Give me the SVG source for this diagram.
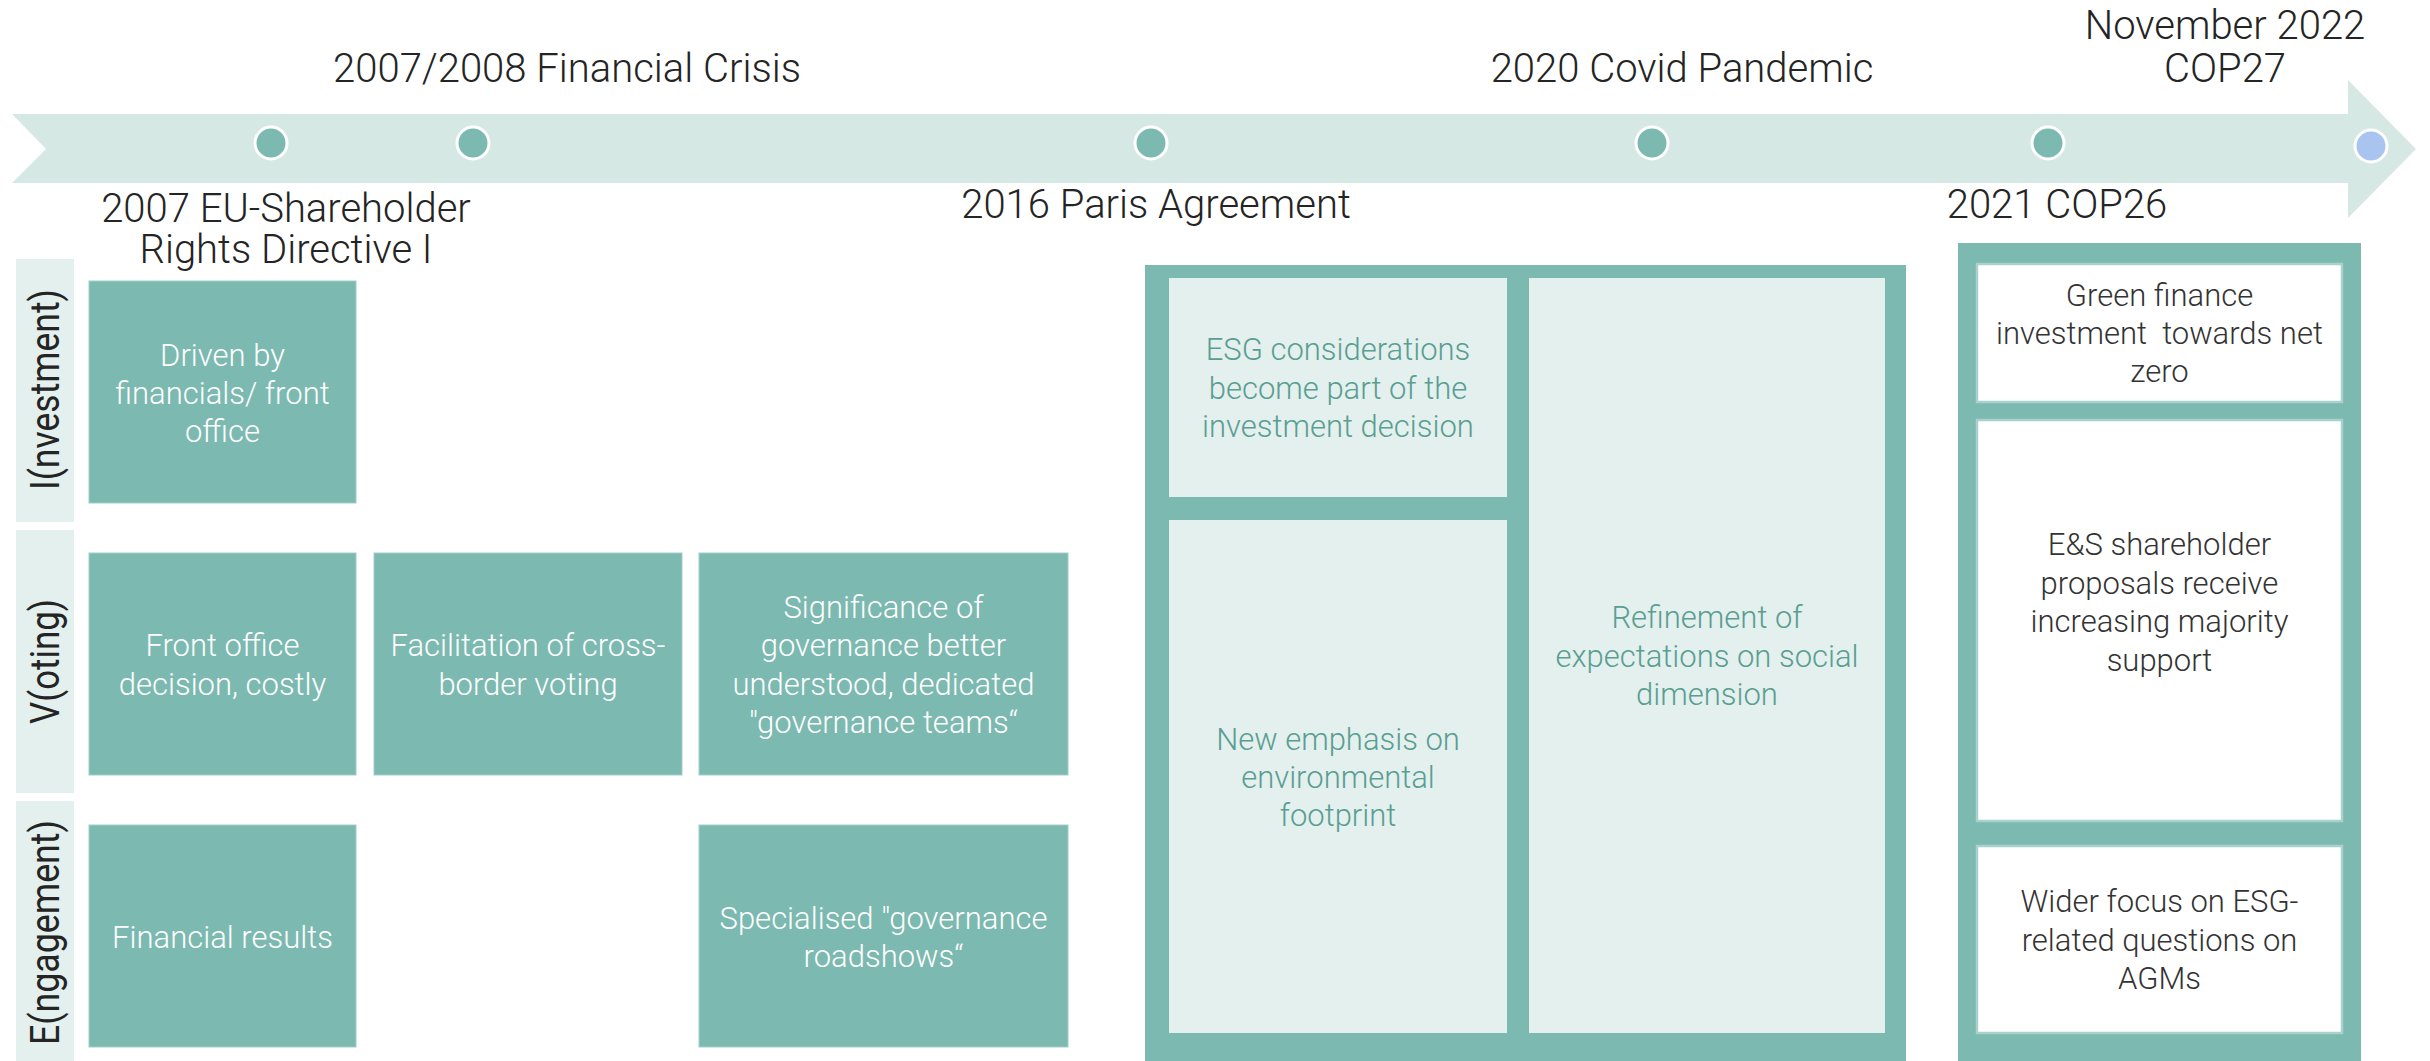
<svg xmlns="http://www.w3.org/2000/svg" width="2430" height="1061" viewBox="0 0 2430 1061">
<style>
text{font-family:Roboto,"Liberation Sans",sans-serif;font-weight:300}
.tl{font-size:40px;fill:#242424;text-anchor:middle}
.row{font-size:40px;fill:#242424;text-anchor:middle;font-weight:400}
.strip{fill:#E3F0EE}
.box{fill:#7CB9B0;stroke:#A3CFC8;stroke-width:1}
.bt{font-size:31px;fill:#FFFFFF;text-anchor:middle}
.frame{fill:#7CB9B0}
.inner{fill:#E3F0EE}
.it{font-size:31px;fill:#5A9E92;text-anchor:middle}
.wbox{fill:#FFFFFF;stroke:#A8D2CB;stroke-width:2.5}
.wt{font-size:31px;fill:#333333;text-anchor:middle}
.dot{fill:#7CB9B0;stroke:#FFFFFF;stroke-width:3}
</style>
<rect x="0" y="0" width="2430" height="1061" fill="#FFFFFF"/>
<g id="timeline">
<path d="M12,114 L2348,114 L2348,80 L2416,149 L2348,218 L2348,183 L12,183 L46,149 Z" fill="#D6E8E4"/>
<circle class="dot" cx="271" cy="143" r="16"/>
<circle class="dot" cx="473" cy="143" r="16"/>
<circle class="dot" cx="1151" cy="143" r="16"/>
<circle class="dot" cx="1652" cy="143" r="16"/>
<circle class="dot" cx="2048" cy="143" r="16"/>
<circle cx="2371" cy="146" r="16" fill="#A9C4EE" stroke="#FFFFFF" stroke-width="3"/>
</g>
<g id="labels">
<text class="tl" x="567" y="82">2007/2008 Financial Crisis</text>
<text class="tl" x="286" y="222">2007 EU-Shareholder</text>
<text class="tl" x="286" y="263">Rights Directive I</text>
<text class="tl" x="1156" y="218">2016 Paris Agreement</text>
<text class="tl" x="1682" y="82">2020 Covid Pandemic</text>
<text class="tl" x="2225" y="39">November 2022</text>
<text class="tl" x="2225" y="82">COP27</text>
<text class="tl" x="2057" y="218">2021 COP26</text>
</g>
<g id="row-investment">
<rect class="strip" x="16" y="259" width="58" height="263"/>
<text class="row" transform="translate(59,389.5) rotate(-90)" textLength="201" lengthAdjust="spacingAndGlyphs">I(nvestment)</text>
</g>
<g id="row-voting">
<rect class="strip" x="16" y="530" width="58" height="263"/>
<text class="row" transform="translate(59,661.5) rotate(-90)" textLength="125" lengthAdjust="spacingAndGlyphs">V(oting)</text>
</g>
<g id="row-engagement">
<rect class="strip" x="16" y="801" width="58" height="260"/>
<text class="row" transform="translate(59,932.5) rotate(-90)" textLength="225" lengthAdjust="spacingAndGlyphs">E(ngagement)</text>
</g>
<g id="node-i1">
<rect class="box" x="89" y="281" width="267" height="222"/>
<text class="bt" x="222.5" y="366">Driven by</text>
<text class="bt" x="222.5" y="404">financials/ front</text>
<text class="bt" x="222.5" y="442">office</text>
</g>
<g id="node-v1">
<rect class="box" x="89" y="553" width="267" height="222"/>
<text class="bt" x="222.5" y="656">Front office</text>
<text class="bt" x="222.5" y="695">decision, costly</text>
</g>
<g id="node-v2">
<rect class="box" x="374" y="553" width="308" height="222"/>
<text class="bt" x="528" y="656">Facilitation of cross-</text>
<text class="bt" x="528" y="695">border voting</text>
</g>
<g id="node-v3">
<rect class="box" x="699" y="553" width="369" height="222"/>
<text class="bt" x="883.5" y="618">Significance of</text>
<text class="bt" x="883.5" y="656">governance better</text>
<text class="bt" x="883.5" y="695">understood, dedicated</text>
<text class="bt" x="883.5" y="733">"governance teams“</text>
</g>
<g id="node-e1">
<rect class="box" x="89" y="825" width="267" height="222"/>
<text class="bt" x="222.5" y="948">Financial results</text>
</g>
<g id="node-e3">
<rect class="box" x="699" y="825" width="369" height="222"/>
<text class="bt" x="883.5" y="929">Specialised "governance</text>
<text class="bt" x="883.5" y="967">roadshows“</text>
</g>
<g id="node-paris">
<rect class="frame" x="1145" y="265" width="761" height="796"/>
<g id="node-esg">
<rect class="inner" x="1169" y="278" width="338" height="219"/>
<text class="it" x="1338" y="360">ESG considerations</text>
<text class="it" x="1338" y="398.5">become part of the</text>
<text class="it" x="1338" y="437">investment decision</text>
</g>
<g id="node-env">
<rect class="inner" x="1169" y="520" width="338" height="513"/>
<text class="it" x="1338" y="750">New emphasis on</text>
<text class="it" x="1338" y="788">environmental</text>
<text class="it" x="1338" y="826">footprint</text>
</g>
<g id="node-social">
<rect class="inner" x="1529" y="278" width="356" height="755"/>
<text class="it" x="1707" y="628">Refinement of</text>
<text class="it" x="1707" y="667">expectations on social</text>
<text class="it" x="1707" y="705">dimension</text>
</g>
</g>
<g id="node-cop26">
<rect class="frame" x="1958" y="243" width="403" height="818"/>
<g id="node-green">
<rect class="wbox" x="1977" y="264" width="365" height="138"/>
<text class="wt" x="2159.5" y="306">Green finance</text>
<text class="wt" x="2159.5" y="344" xml:space="preserve">investment  towards net</text>
<text class="wt" x="2159.5" y="382">zero</text>
</g>
<g id="node-es">
<rect class="wbox" x="1977" y="420" width="365" height="401"/>
<text class="wt" x="2159.5" y="555">E&amp;S shareholder</text>
<text class="wt" x="2159.5" y="594">proposals receive</text>
<text class="wt" x="2159.5" y="632">increasing majority</text>
<text class="wt" x="2159.5" y="671">support</text>
</g>
<g id="node-agm">
<rect class="wbox" x="1977" y="846" width="365" height="187"/>
<text class="wt" x="2159.5" y="912">Wider focus on ESG-</text>
<text class="wt" x="2159.5" y="951">related questions on</text>
<text class="wt" x="2159.5" y="989">AGMs</text>
</g>
</g>
</svg>
